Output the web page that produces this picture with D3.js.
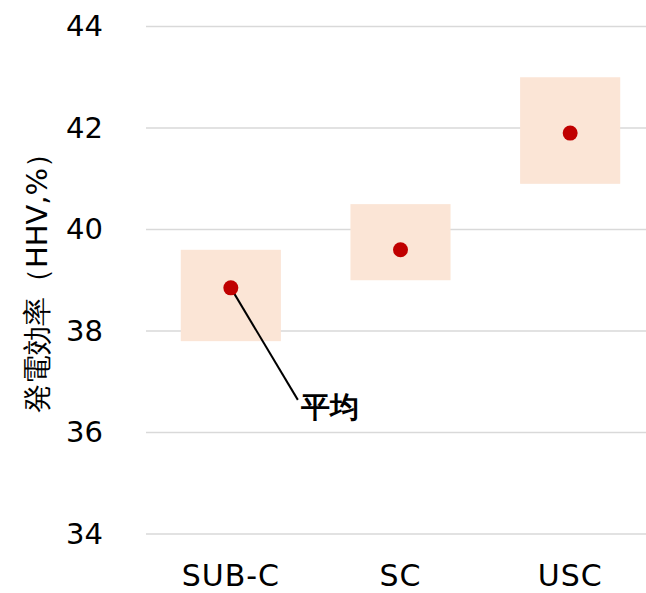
<!DOCTYPE html>
<html>
<head>
<meta charset="utf-8">
<script src="https://cdn.jsdelivr.net/npm/d3@7/dist/d3.min.js"></script>
<style>
  html, body { margin: 0; padding: 0; background: #fff; }
  svg { display: block; }
  text { font-family: "DejaVu Sans", Verdana, sans-serif; fill: #000; }
</style>
</head>
<body>
<script>
// Power generation efficiency by steam condition (HHV basis)
const categories = ["SUB-C", "SC", "USC"];
const rangeLow   = [37.8, 39.0, 40.9];
const rangeHigh  = [39.6, 40.5, 43.0];
const meanValues = [38.85, 39.6, 41.9];
const yTicks     = [34, 36, 38, 40, 42, 44];
const yTitle     = "発電効率（HHV,%）";
const meanLabel  = "平均";

const W = 646, H = 593;
const svg = d3.select("body").append("svg")
  .attr("width", W).attr("height", H);

const x = d3.scaleBand()
  .domain(categories)
  .range([146, 655])
  .paddingInner(0.41)
  .paddingOuter(0.205);

const y = d3.scaleLinear()
  .domain([34, 44])
  .range([534, 26.5]);

// horizontal gridlines
svg.append("g")
  .selectAll("line")
  .data(yTicks)
  .join("line")
  .attr("x1", 146).attr("x2", W)
  .attr("y1", d => y(d)).attr("y2", d => y(d))
  .attr("stroke", "#d9d9d9").attr("stroke-width", 1.5);

// y axis labels
const yAxis = d3.axisLeft(y).tickValues(yTicks).tickSize(0).tickPadding(0);
const gy = svg.append("g").attr("transform", "translate(103,0)").call(yAxis);
gy.select(".domain").remove();
gy.selectAll("text")
  .attr("font-size", 29)
  .attr("font-family", "'DejaVu Sans', Verdana, sans-serif")
  .attr("fill", "#000");

// x axis labels
const xAxis = d3.axisBottom(x).tickSize(0).tickPadding(0);
const gx = svg.append("g").attr("transform", "translate(0,565)").call(xAxis);
gx.select(".domain").remove();
gx.selectAll("text")
  .attr("font-size", 30)
  .attr("letter-spacing", 1)
  .attr("font-family", "'DejaVu Sans', Verdana, sans-serif")
  .attr("fill", "#000");

// range boxes
svg.append("g")
  .selectAll("rect")
  .data(categories)
  .join("rect")
  .attr("x", d => x(d))
  .attr("width", x.bandwidth())
  .attr("y", (d, i) => y(rangeHigh[i]))
  .attr("height", (d, i) => y(rangeLow[i]) - y(rangeHigh[i]))
  .attr("fill", "#fbe5d6");

// callout for the mean marker of the first category
const c0 = x(categories[0]) + x.bandwidth() / 2;
svg.append("line")
  .attr("x1", c0).attr("y1", y(meanValues[0]))
  .attr("x2", c0 + 67).attr("y2", y(meanValues[0]) + 112)
  .attr("stroke", "#000").attr("stroke-width", 2);

svg.append("text")
  .attr("x", c0 + 70).attr("y", y(meanValues[0]) + 129)
  .attr("font-family", "'Noto Sans CJK JP', sans-serif")
  .attr("font-weight", 900)
  .attr("font-size", 29)
  .text(meanLabel);

// mean markers
svg.append("g")
  .selectAll("circle")
  .data(categories)
  .join("circle")
  .attr("cx", d => x(d) + x.bandwidth() / 2)
  .attr("cy", (d, i) => y(meanValues[i]))
  .attr("r", 7.5)
  .attr("fill", "#c00000");

// y axis title
svg.append("text")
  .attr("transform", "translate(47,276) rotate(-90)")
  .attr("text-anchor", "middle")
  .attr("font-family", "'DejaVu Sans', 'Noto Sans CJK JP', sans-serif")
  .attr("font-size", 29)
  .text(yTitle);
</script>
</body>
</html>
